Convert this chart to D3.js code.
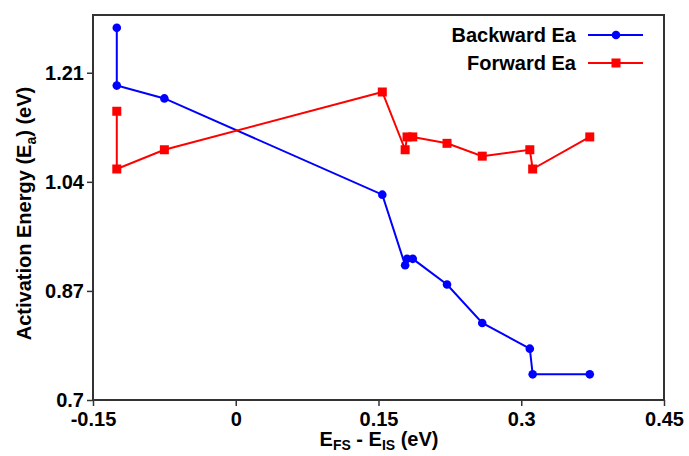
<!DOCTYPE html>
<html>
<head>
<meta charset="utf-8">
<script src="https://cdn.jsdelivr.net/npm/d3@7"></script>
<style>
  body { margin: 0; background: #fff; }
  text { font-family: "Liberation Sans", Arial, sans-serif; font-weight: bold; fill: #000; }
</style>
</head>
<body>
<div id="chart"></div>
<script>
// E_FS - E_IS (eV)
var dE = [-0.125, -0.125, -0.075, 0.154, 0.178, 0.180, 0.186, 0.222, 0.259, 0.309, 0.312, 0.372];
var backwardEa = [1.28, 1.19, 1.17, 1.02, 0.91, 0.92, 0.92, 0.88, 0.82, 0.78, 0.74, 0.74];
var forwardEa = [1.15, 1.06, 1.09, 1.18, 1.09, 1.11, 1.11, 1.10, 1.08, 1.09, 1.06, 1.11];
var xTicks = [-0.15, 0, 0.15, 0.3, 0.45];
var yTicks = [0.7, 0.87, 1.04, 1.21];
var seriesNames = ["Backward Ea", "Forward Ea"];

var margin = { top: 15, right: 25, bottom: 56, left: 93 },
    width = 689 - margin.left - margin.right,
    height = 456 - margin.top - margin.bottom;

var svg = d3.select("#chart")
    .append("svg")
    .attr("width", 689)
    .attr("height", 456)
    .append("g")
    .attr("transform", "translate(" + margin.left + "," + margin.top + ")");

var x = d3.scaleLinear().domain([-0.15, 0.45]).range([0, width]);
var y = d3.scaleLinear().domain([0.7, 1.3]).range([height, 0]);

var xAxis = svg.append("g")
    .attr("transform", "translate(0," + height + ")")
    .call(d3.axisBottom(x).tickValues(xTicks).tickSize(6).tickSizeOuter(0).tickFormat(function(d) { return d === 0 ? "0" : String(d); }));
var yAxis = svg.append("g")
    .call(d3.axisLeft(y).tickValues(yTicks).tickSize(6).tickSizeOuter(0).tickFormat(function(d) { return String(d); }));

[xAxis, yAxis].forEach(function(a) {
    a.select(".domain").remove();
    a.selectAll("line").attr("stroke", "#333").attr("stroke-width", 1.5);
    a.selectAll("text").style("font-size", "20px").style("font-family", "Liberation Sans, Arial, sans-serif").style("font-weight", "bold").attr("fill", "#000");
});
xAxis.selectAll("text").attr("dy", "0.85em");
yAxis.selectAll("text").attr("x", -9);

// frame
svg.append("rect")
    .attr("width", width)
    .attr("height", height)
    .attr("fill", "none")
    .attr("stroke", "#333")
    .attr("stroke-width", 2);

var backward = dE.map(function(d, i) { return [d, backwardEa[i]]; });
var forward = dE.map(function(d, i) { return [d, forwardEa[i]]; });

var line = d3.line()
    .x(function(d) { return x(d[0]); })
    .y(function(d) { return y(d[1]); });

svg.append("path").datum(backward).attr("d", line)
    .attr("fill", "none").attr("stroke", "#0000ff").attr("stroke-width", 2);
svg.append("path").datum(forward).attr("d", line)
    .attr("fill", "none").attr("stroke", "#ff0000").attr("stroke-width", 2);

svg.selectAll(".bpt").data(backward).enter().append("circle")
    .attr("cx", function(d) { return x(d[0]); })
    .attr("cy", function(d) { return y(d[1]); })
    .attr("r", 4.3)
    .attr("fill", "#0000ff");

svg.selectAll(".fpt").data(forward).enter().append("rect")
    .attr("x", function(d) { return x(d[0]) - 4.5; })
    .attr("y", function(d) { return y(d[1]) - 4.5; })
    .attr("width", 9)
    .attr("height", 9)
    .attr("fill", "#ff0000");

// legend
var legend = svg.append("g").attr("transform", "translate(" + (width - 76) + ",20)");
seriesNames.forEach(function(name, i) {
    var g = legend.append("g").attr("transform", "translate(0," + (i * 28) + ")");
    g.append("text").attr("x", -12).attr("y", 0).attr("dy", "0.36em")
        .attr("text-anchor", "end").style("font-size", "20px").text(name);
    g.append("line").attr("x1", 0).attr("x2", 55).attr("y1", 0).attr("y2", 0)
        .attr("stroke", i === 0 ? "#0000ff" : "#ff0000").attr("stroke-width", 2);
    if (i === 0) {
        g.append("circle").attr("cx", 28).attr("cy", 0).attr("r", 4.3).attr("fill", "#0000ff");
    } else {
        g.append("rect").attr("x", 23.5).attr("y", -4.5).attr("width", 9).attr("height", 9).attr("fill", "#ff0000");
    }
});

// x title
var xt = svg.append("text")
    .attr("x", 379 - margin.left)
    .attr("y", height + 46)
    .attr("text-anchor", "middle")
    .style("font-size", "20px");
xt.append("tspan").text("E");
xt.append("tspan").attr("dy", 4).style("font-size", "14px").text("FS");
xt.append("tspan").attr("dy", -4).text(" - E");
xt.append("tspan").attr("dy", 4).style("font-size", "14px").text("IS");
xt.append("tspan").attr("dy", -4).text(" (eV)");

// y title
var yt = svg.append("text")
    .attr("transform", "translate(" + (-62) + "," + (height / 2 + 6) + ") rotate(-90)")
    .attr("text-anchor", "middle")
    .style("font-size", "20px");
yt.append("tspan").text("Activation Energy (E");
yt.append("tspan").attr("dy", 5).style("font-size", "14px").text("a");
yt.append("tspan").attr("dy", -5).text(") (eV)");
</script>
</body>
</html>
